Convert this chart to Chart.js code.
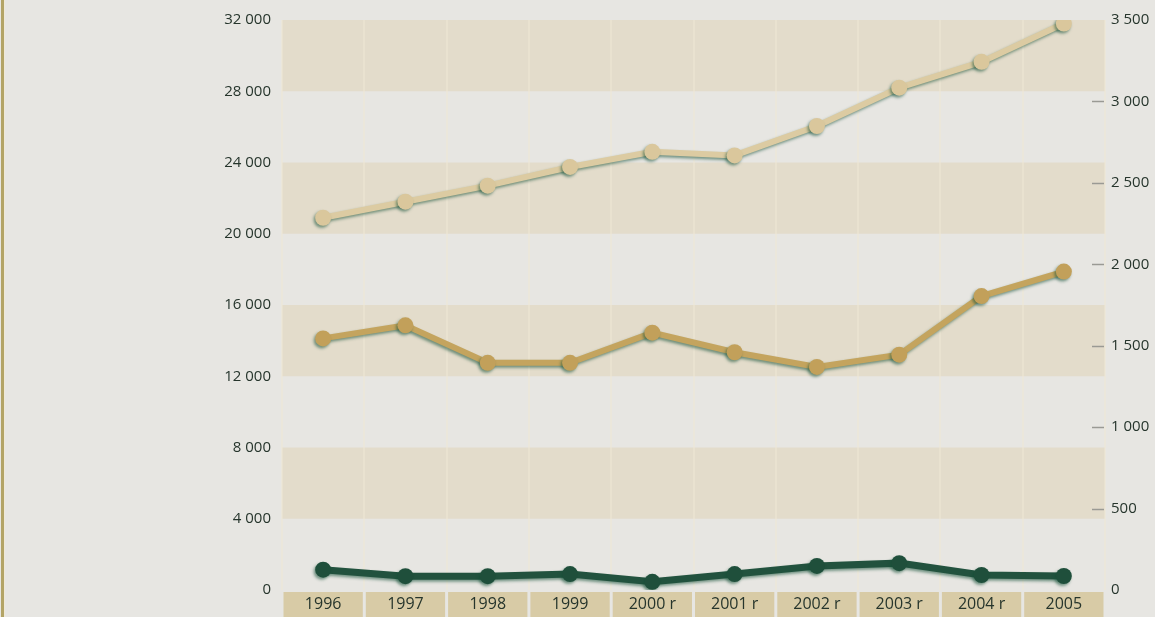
<!DOCTYPE html>
<html>
<head>
<meta charset="utf-8">
<script src="https://cdn.jsdelivr.net/npm/chart.js@4/dist/chart.umd.min.js"></script>
<style>
html,body{margin:0;padding:0;background:#e7e6e2;}
canvas{display:block;}
</style>
</head>
<body>
<canvas id="c" width="1155" height="617"></canvas>
<script>
const categories = ['1996','1997','1998','1999','2000 r','2001 r','2002 r','2003 r','2004 r','2005'];
const seriesTop = [20900, 21800, 22700, 23750, 24600, 24400, 26050, 28200, 29650, 31800];
const seriesMid = [1545, 1625, 1395, 1395, 1580, 1460, 1370, 1445, 1805, 1955];
const seriesLow = [125, 85, 85, 98, 50, 98, 148, 165, 92, 86];
const leftTicks = [0, 4000, 8000, 12000, 16000, 20000, 24000, 28000, 32000];
const rightTicks = [0, 500, 1000, 1500, 2000, 2500, 3000, 3500];
const bandRanges = [[28000, 32000], [20000, 24000], [12000, 16000], [4000, 8000]];
const rightDashTicks = [500, 1000, 1500, 2000, 2500, 3000];

function fmt(v){ return String(v).replace(/\B(?=(\d{3})+(?!\d))/g, ' '); }

const decor = {
  id: 'decor',
  beforeDraw(chart){
    const {ctx, chartArea:a, scales} = chart;
    ctx.save();
    ctx.fillStyle = '#e7e6e2';
    ctx.fillRect(0, 0, chart.width, chart.height);
    ctx.fillStyle = '#b3a466';
    ctx.fillRect(1, 0, 3, chart.height);
    ctx.fillStyle = '#efe9d6';
    ctx.fillRect(4, 0, 1, chart.height);
    ctx.fillStyle = '#e3dccb';
    bandRanges.forEach(([lo, hi]) => {
      const y1 = scales.y.getPixelForValue(hi), y2 = scales.y.getPixelForValue(lo);
      ctx.fillRect(a.left, y1, a.right - a.left, y2 - y1);
    });
    const x = scales.x;
    const w = (a.right - a.left) / categories.length;
    ctx.fillStyle = '#d8cba6';
    categories.forEach((c, i) => {
      const cx = x.getPixelForValue(i);
      ctx.fillRect(cx - w/2 + 1.5, a.bottom + 2, w - 3, chart.height - a.bottom - 2);
    });
    ctx.restore();
  },
  afterDraw(chart){
    const {ctx, chartArea:a, scales} = chart;
    ctx.save();
    ctx.strokeStyle = '#9a9a94';
    ctx.lineWidth = 1.5;
    rightDashTicks.forEach(v => {
      const y = Math.round(scales.y1.getPixelForValue(v)) + 0.5;
      ctx.beginPath(); ctx.moveTo(a.right - 13, y); ctx.lineTo(a.right - 1, y); ctx.stroke();
    });
    ctx.restore();
  },
  beforeDatasetDraw(chart){
    const ctx = chart.ctx;
    ctx.save();
    ctx.shadowColor = 'rgba(20,80,55,0.55)';
    ctx.shadowBlur = 3;
    ctx.shadowOffsetX = -1.5;
    ctx.shadowOffsetY = 2;
  },
  afterDatasetDraw(chart){
    chart.ctx.restore();
  }
};

const tickColor = '#26352c';
new Chart(document.getElementById('c'), {
  type: 'line',
  data: {
    labels: categories,
    datasets: [
      { data: seriesTop, yAxisID: 'y', borderColor: '#dccba2', backgroundColor: '#dccba2',
        borderWidth: 6, pointRadius: 8, pointBorderWidth: 0, pointBackgroundColor: '#dac79c' },
      { data: seriesMid, yAxisID: 'y1', borderColor: '#c4a45e', backgroundColor: '#c4a45e',
        borderWidth: 6, pointRadius: 8, pointBorderWidth: 0, pointBackgroundColor: '#c2a05a' },
      { data: seriesLow, yAxisID: 'y1', borderColor: '#22523e', backgroundColor: '#22523e',
        borderWidth: 7, pointRadius: 8, pointBorderWidth: 0, pointBackgroundColor: '#1f4f3b' }
    ]
  },
  options: {
    responsive: false,
    animation: false,
    events: [],
    layout: { padding: { top: 20, left: 0, right: 0, bottom: 0 } },
    plugins: { legend: { display: false }, tooltip: { enabled: false } },
    scales: {
      x: {
        offset: true,
        grid: { display: true, offset: true, drawTicks: false, drawOnChartArea: true, color: 'rgba(238,232,214,0.55)', lineWidth: 2 },
        border: { display: false },
        ticks: { color: tickColor, font: { family: 'Open Sans', size: 16 }, padding: 5, maxRotation: 0, autoSkip: false },
        afterFit(s){ s.height = 27; }
      },
      y: {
        position: 'left', min: 0, max: 32000,
        afterBuildTicks(s){ s.ticks = leftTicks.map(v => ({ value: v })); },
        grid: { display: false, drawTicks: false },
        border: { display: false },
        ticks: { color: tickColor, font: { family: 'Open Sans', size: 15 }, padding: 11, callback: v => fmt(v) },
        afterFit(s){ s.width = 282; }
      },
      y1: {
        position: 'right', min: 0, max: 3500,
        afterBuildTicks(s){ s.ticks = rightTicks.map(v => ({ value: v })); },
        grid: { display: false, drawTicks: false },
        border: { display: false },
        ticks: { color: tickColor, font: { family: 'Open Sans', size: 15 }, padding: 6, callback: v => fmt(v) },
        afterFit(s){ s.width = 50; }
      }
    }
  },
  plugins: [decor]
});
</script>
</body>
</html>
